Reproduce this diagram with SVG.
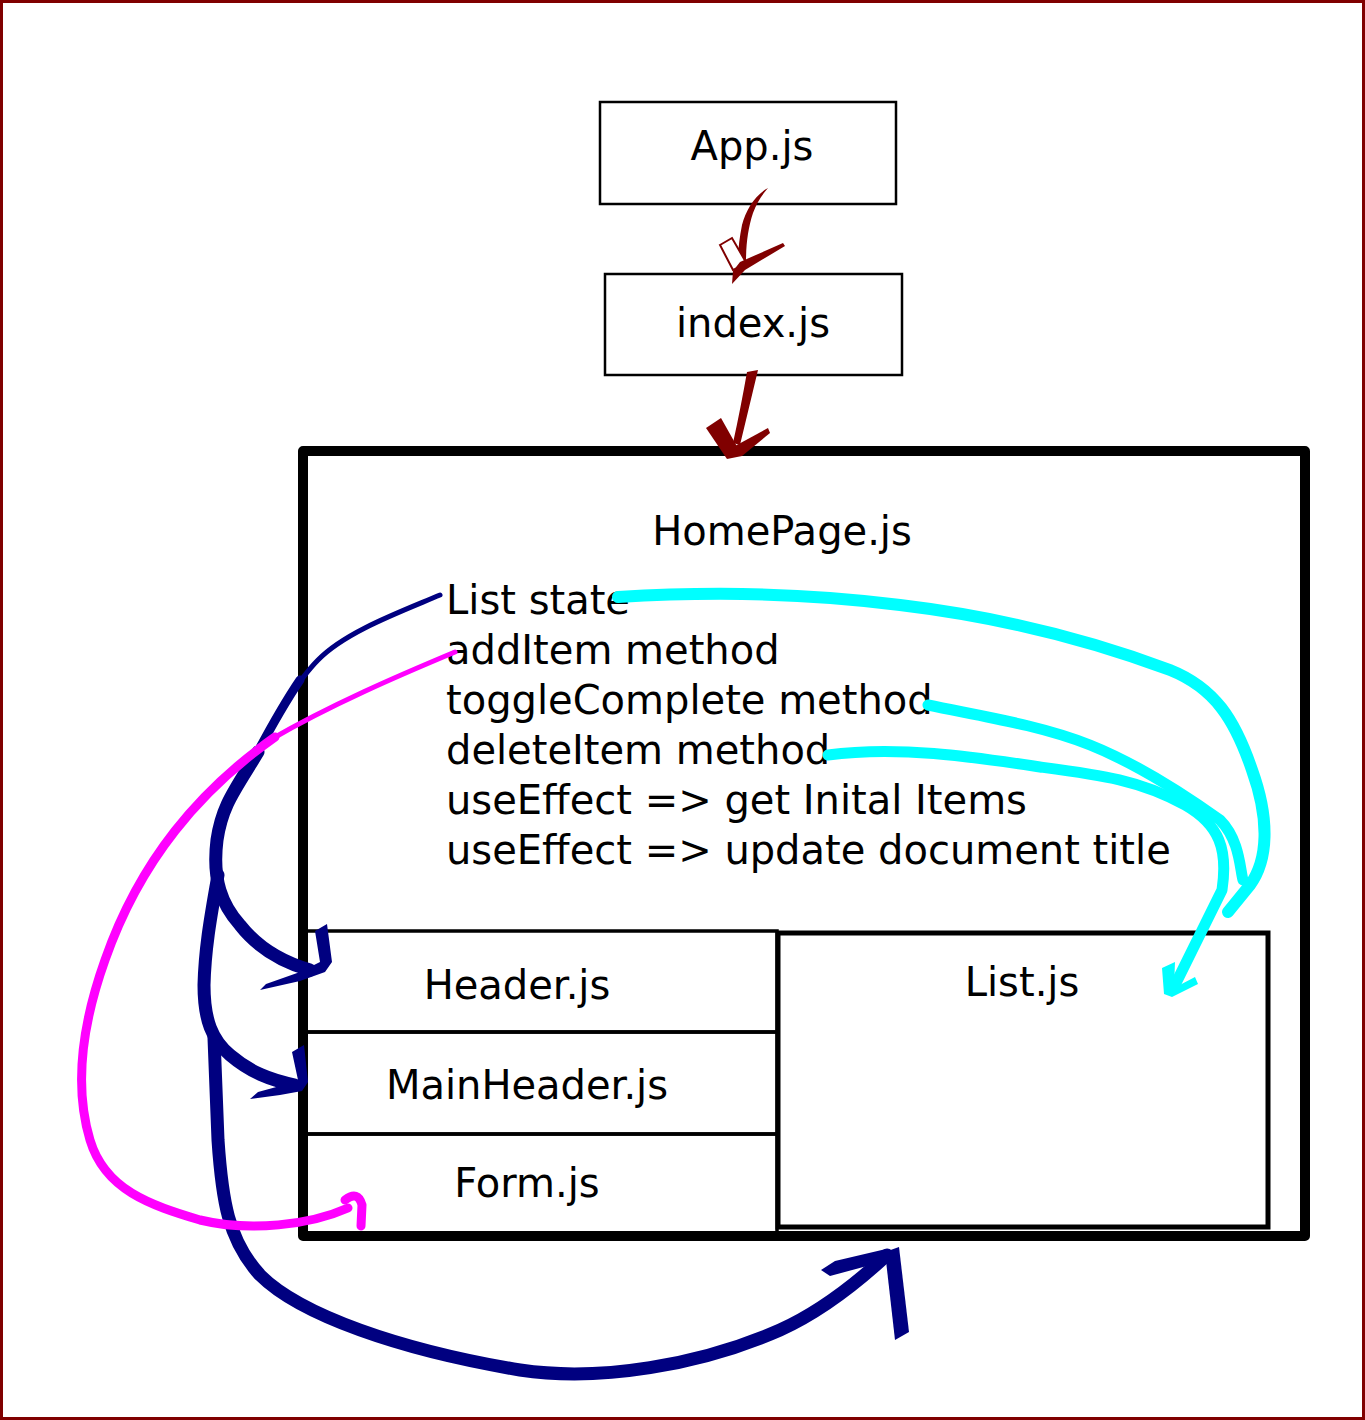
<svg xmlns="http://www.w3.org/2000/svg" width="1365" height="1420" viewBox="0 0 1365 1420">
<style>
text{font-family:"DejaVu Sans","Liberation Sans",sans-serif;font-size:40px;fill:#000}
.c{text-anchor:middle}
.box{fill:none;stroke:#000;stroke-width:2.5}
.sub{fill:none;stroke:#000;stroke-width:3.5}
.ln{fill:none;stroke-linecap:round;stroke-linejoin:round}
.navy{stroke:#000080}.mag{stroke:#ff00ff}.cy{stroke:#00ffff}.red{stroke:#800000}
</style>
<rect x="0" y="0" width="1365" height="1420" fill="#fff"/>
<rect x="1.5" y="1.5" width="1362" height="1417" fill="none" stroke="#800000" stroke-width="3"/>

<g id="app">
<rect class="box" x="600" y="102" width="296" height="102"/>
<text class="c" x="752" y="160">App.js</text>
</g>
<g id="index">
<rect class="box" x="605" y="274" width="297" height="101"/>
<text class="c" x="753" y="337">index.js</text>
</g>
<g id="homepage">
<rect x="303" y="451" width="1002" height="785" fill="none" stroke="#000" stroke-width="10" stroke-linejoin="round"/>
<text class="c" x="782" y="545">HomePage.js</text>
<text x="446" y="614">List state</text>
<text x="446" y="664">addItem method</text>
<text x="446" y="714">toggleComplete method</text>
<text x="446" y="764">deleteItem method</text>
<text x="446" y="814">useEffect =&gt; get Inital Items</text>
<text x="446" y="864">useEffect =&gt; update document title</text>
</g>
<g id="header">
<rect class="sub" x="305" y="931" width="472" height="101"/>
<text class="c" x="517" y="999">Header.js</text>
</g>
<g id="mainheader">
<rect class="sub" x="305" y="1032" width="472" height="102"/>
<text class="c" x="527" y="1099">MainHeader.js</text>
</g>
<g id="form">
<rect class="sub" x="305" y="1134" width="472" height="102"/>
<text class="c" x="527" y="1197">Form.js</text>
</g>
<g id="list">
<rect x="778" y="933" width="490" height="294" fill="none" stroke="#000" stroke-width="5"/>
<text class="c" x="1022" y="996">List.js</text>
</g>

<g id="connectors">
<!-- App -> index -->
<path d="M768,188 C755,195 746,210 742,225 C739,240 738,252 738,262 L746,262 C746,245 748,228 753,213 C757,202 762,195 768,188 Z" fill="#800000"/>
<polygon points="720,245 732,238 747,264 733,270" fill="#fff" stroke="#800000" stroke-width="2"/>
<polygon points="740,262 783,243 785,246 745,270 732,284 733,271" fill="#800000"/>
<!-- index -> HomePage -->
<path d="M758,370 L747,372 C743,395 738,420 733,443 L740,445 C746,420 752,395 758,370 Z" fill="#800000"/>
<polygon points="706,428 721,418 739,450 727,459" fill="#800000"/>
<polygon points="735,446 768,428 770,433 742,456 727,459" fill="#800000"/>

<!-- navy: List state -> Header -->
<path class="ln navy" stroke-width="5" d="M440,595 C400,612 345,632 318,660 C305,673 295,688 285,703"/>
<path class="ln navy" stroke-width="9" d="M300,680 C285,702 272,725 255,757"/>
<path class="ln navy" stroke-width="13" d="M258,752 C235,790 222,805 217,840 C212,880 222,905 240,925 C258,948 282,962 310,970"/>
<polygon fill="#000080" points="315,931 327,924 332,962 325,972 300,981 260,990 266,984 300,972 320,962"/>
<!-- navy: -> MainHeader -->
<path class="ln navy" stroke-width="13" d="M218,875 C212,910 205,945 204,985 C204,1020 212,1040 230,1055 C250,1072 270,1080 295,1085"/>
<polygon fill="#000080" points="292,1052 304,1045 308,1082 302,1091 280,1095 250,1099 258,1092 280,1086 298,1080"/>
<!-- navy: -> List -->
<path class="ln navy" stroke-width="13" d="M214,1038 L218,1140 C222,1200 228,1240 260,1275 C300,1315 400,1350 520,1370 C600,1382 700,1365 780,1330 C820,1312 860,1280 887,1255"/>
<polygon fill="#000080" points="885,1252 899,1247 909,1332 895,1340"/>
<polygon fill="#000080" points="886,1249 893,1259 830,1276 821,1270 835,1261"/>

<!-- magenta: addItem -> Form -->
<path class="ln mag" stroke-width="5" d="M455,652 C400,675 330,705 270,740"/>
<path class="ln mag" stroke-width="9" d="M275,737 C200,790 140,860 105,960 C80,1030 75,1090 90,1140 C105,1190 150,1205 200,1220 C250,1232 310,1225 348,1208"/>
<path class="ln mag" stroke-width="9" d="M345,1200 Q358,1190 362,1205 L361,1226"/>

<!-- cyan -->
<path class="ln cy" stroke-width="12" d="M618,597 C700,592 800,592 900,605 C1000,617 1090,640 1170,670 C1215,688 1235,720 1252,770 C1270,820 1268,860 1250,885 L1228,912"/>
<path class="ln cy" stroke-width="11" d="M928,705 C980,716 1040,725 1090,745 C1140,765 1185,795 1220,820 C1240,840 1240,870 1243,880"/>
<path class="ln cy" stroke-width="11" d="M828,755 C900,745 980,758 1040,767 C1100,775 1140,780 1185,805 C1220,825 1228,850 1222,890 L1175,985"/>
<polygon fill="#00ffff" points="1162,968 1175,962 1174,988 1195,977 1198,984 1172,997 1164,994"/>
</g>
</svg>
